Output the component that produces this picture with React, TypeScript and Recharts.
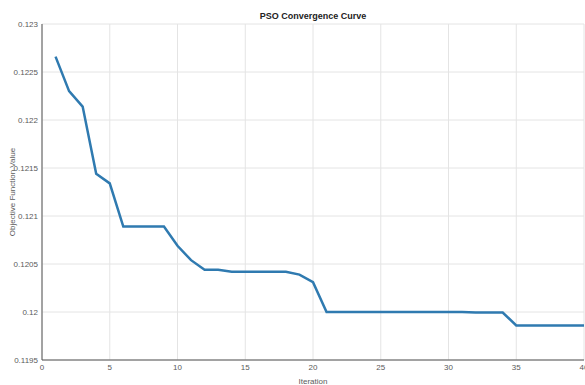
import React from 'react';
import { LineChart, Line, XAxis, YAxis, CartesianGrid, Label } from 'recharts';

const iterations = [
  1, 2, 3, 4, 5, 6, 7, 8, 9, 10, 11, 12, 13, 14, 15, 16, 17, 18, 19, 20,
  21, 22, 23, 24, 25, 26, 27, 28, 29, 30, 31, 32, 33, 34, 35, 36, 37, 38, 39, 40,
];
const objectiveValues = [
  0.12266, 0.1223, 0.12214, 0.12144, 0.12134, 0.12089, 0.12089, 0.12089, 0.12089, 0.12069,
  0.12054, 0.12044, 0.12044, 0.12042, 0.12042, 0.12042, 0.12042, 0.12042, 0.12039, 0.12031,
  0.12, 0.12, 0.12, 0.12, 0.12, 0.12, 0.12, 0.12, 0.12, 0.12,
  0.12, 0.119995, 0.119995, 0.119995, 0.11986, 0.11986, 0.11986, 0.11986, 0.11986, 0.11986,
];
const xTicks = [0, 5, 10, 15, 20, 25, 30, 35, 40];
const yTicks = [0.1195, 0.12, 0.1205, 0.121, 0.1215, 0.122, 0.1225, 0.123];
const title = 'PSO Convergence Curve';
const xLabel = 'Iteration';
const yLabel = 'Objective Function Value';

const data = iterations.map((it, i) => ({ iter: it, value: objectiveValues[i] }));

const FONT = '"Liberation Sans", Arial, sans-serif';
const tickStyle = { fontSize: 8, fill: '#5a5a5a', fontFamily: FONT };
const AXIS = '#555';

export default function App() {
  return (
    <div style={{ position: 'absolute', left: 0, top: 0, width: 585, height: 385, background: '#fff' }}>
      <div
        style={{
          position: 'absolute',
          left: 42,
          width: 542,
          top: 10,
          textAlign: 'center',
          fontFamily: FONT,
          fontWeight: 'bold',
          fontSize: 9,
          color: '#222',
          lineHeight: '12px',
        }}
      >
        {title}
      </div>
      <LineChart width={585} height={385} data={data} margin={{ top: 24, right: 1, bottom: 0, left: 0 }}>
        <CartesianGrid stroke="#e4e4e4" strokeWidth={1} />
        <XAxis
          xAxisId="inner"
          dataKey="iter"
          type="number"
          domain={[0, 40]}
          ticks={xTicks}
          height={0}
          mirror
          tick={false}
          tickSize={4}
          axisLine={{ stroke: AXIS }}
          tickLine={{ stroke: AXIS }}
        />
        <XAxis
          dataKey="iter"
          type="number"
          domain={[0, 40]}
          ticks={xTicks}
          height={25}
          tickLine={false}
          tickSize={2}
          axisLine={{ stroke: AXIS }}
          tick={tickStyle}
          interval={0}
        >
          <Label value={xLabel} position="insideBottom" offset={1} style={{ fontSize: 8, fill: '#5a5a5a', fontFamily: FONT }} />
        </XAxis>
        <XAxis
          xAxisId="top"
          orientation="top"
          dataKey="iter"
          type="number"
          domain={[0, 40]}
          ticks={xTicks}
          height={0}
          mirror
          tick={false}
          tickSize={4}
          axisLine={{ stroke: AXIS }}
          tickLine={{ stroke: AXIS }}
        />
        <YAxis
          yAxisId="inner"
          type="number"
          domain={[0.1195, 0.123]}
          ticks={yTicks}
          width={0}
          mirror
          tick={false}
          tickSize={4}
          allowDataOverflow
          axisLine={{ stroke: AXIS }}
          tickLine={{ stroke: AXIS }}
        />
        <YAxis
          type="number"
          domain={[0.1195, 0.123]}
          ticks={yTicks}
          width={42}
          allowDataOverflow
          tickLine={false}
          tickSize={2}
          axisLine={{ stroke: AXIS }}
          tick={tickStyle}
          interval={0}
        >
          <Label
            value={yLabel}
            angle={-90}
            position="insideLeft"
            offset={0}
            content={(props: any) => {
              const vb = props.viewBox || { x: 0, y: 24, width: 42, height: 336 };
              const cx = vb.x + 12;
              const cy = vb.y + vb.height / 2;
              return (
                <text
                  x={cx}
                  y={cy}
                  transform={`rotate(-90 ${cx} ${cy})`}
                  textAnchor="middle"
                  dominantBaseline="central"
                  style={{ fontSize: 8, fill: '#5a5a5a', fontFamily: FONT }}
                >
                  {yLabel}
                </text>
              );
            }}
          />
        </YAxis>
        <Line
          type="linear"
          dataKey="value"
          stroke="#2f7ab0"
          strokeWidth={2.5}
          dot={false}
          isAnimationActive={false}
        />
      </LineChart>
    </div>
  );
}
